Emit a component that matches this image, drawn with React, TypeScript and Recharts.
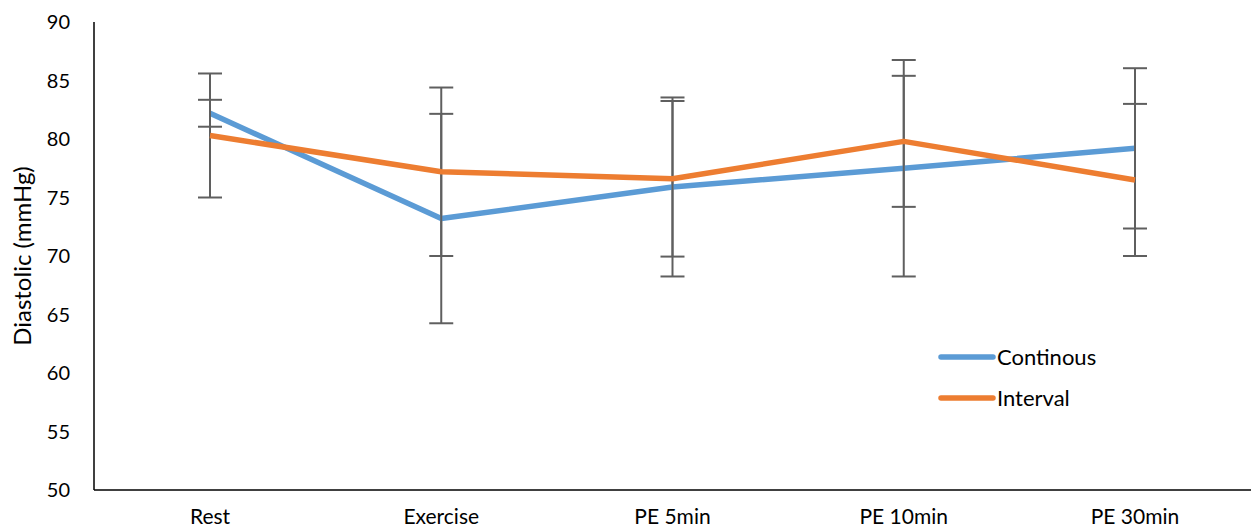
import { LineChart, Line, XAxis, YAxis, ErrorBar } from 'recharts';

const categories = ['Rest', 'Exercise', 'PE 5min', 'PE 10min', 'PE 30min'];
const continous = [82.2, 73.2, 75.9, 77.5, 79.2];
const continousErr = [1.15, 8.95, 7.65, 9.25, 6.85];
const interval = [80.3, 77.2, 76.6, 79.8, 76.5];
const intervalErr = [5.3, 7.2, 6.65, 5.6, 6.5];
const yTicks = [50, 55, 60, 65, 70, 75, 80, 85, 90];

const data = categories.map((name, i) => ({
  name,
  continous: continous[i],
  continousErr: continousErr[i],
  interval: interval[i],
  intervalErr: intervalErr[i],
}));

const FONT = 'Lato, "Open Sans", sans-serif';

function LegendBox() {
  const items = [
    { label: 'Continous', color: '#5B9BD5' },
    { label: 'Interval', color: '#ED7D31' },
  ];
  return (
    <div
      style={{
        position: 'absolute',
        left: 938,
        top: 336,
        fontFamily: FONT,
        fontSize: 22,
        color: '#000',
      }}
    >
      {items.map((it) => (
        <div key={it.label} style={{ display: 'flex', alignItems: 'center', height: 41 }}>
          <svg width={58} height={10}>
            <line x1={3} y1={5} x2={55} y2={5} stroke={it.color} strokeWidth={5.5} strokeLinecap="round" />
          </svg>
          <span style={{ marginLeft: 1 }}>{it.label}</span>
        </div>
      ))}
    </div>
  );
}

export default function App() {
  return (
    <div style={{ position: 'absolute', left: 0, top: 0, width: 1256, height: 531, background: '#fff' }}>
      <LineChart
        width={1256}
        height={531}
        data={data}
        margin={{ top: 22, right: 5, left: 0, bottom: 0 }}
      >
        <XAxis
          dataKey="name"
          axisLine={{ stroke: '#000', strokeWidth: 1.5 }}
          tickLine={false}
          tickMargin={13}
          height={41}
          padding={{ left: 116, right: 116 }}
          tick={{ fill: '#000', fontSize: 21, fontFamily: FONT }}
          interval={0}
        />
        <YAxis
          domain={[50, 90]}
          ticks={yTicks}
          width={94}
          axisLine={{ stroke: '#000', strokeWidth: 1.5 }}
          tickLine={false}
          tickMargin={18}
          tick={{ fill: '#000', fontSize: 20, fontFamily: FONT }}
          label={{
            value: 'Diastolic (mmHg)',
            angle: -90,
            position: 'center',
            dx: -25,
            style: { fill: '#000', fontSize: 24, fontFamily: FONT, textAnchor: 'middle' },
          }}
        />
        <Line
          dataKey="continous"
          stroke="#5B9BD5"
          strokeWidth={5.5}
          dot={false}
          isAnimationActive={false}
          strokeLinejoin="round"
        >
          <ErrorBar dataKey="continousErr" width={12} stroke="#5f5f5f" strokeWidth={2} />
        </Line>
        <Line
          dataKey="interval"
          stroke="#ED7D31"
          strokeWidth={5.5}
          dot={false}
          isAnimationActive={false}
          strokeLinejoin="round"
        >
          <ErrorBar dataKey="intervalErr" width={12} stroke="#5f5f5f" strokeWidth={2} />
        </Line>
      </LineChart>
      <LegendBox />
    </div>
  );
}
